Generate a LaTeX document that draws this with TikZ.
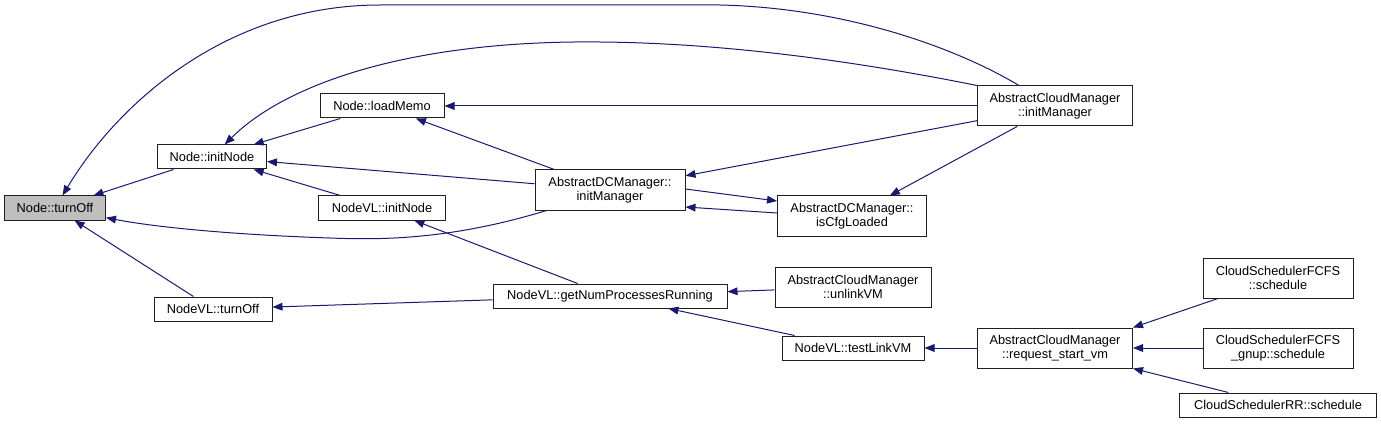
\documentclass[tikz,border=0pt]{standalone}
\usepackage{fontspec}
\setmainfont{Liberation Sans}
\usepackage{tikz}
\usetikzlibrary{arrows.meta,positioning,calc}
\definecolor{Edge}{HTML}{191970}
\definecolor{Hi}{HTML}{BFBFBF}
\definecolor{Frame}{HTML}{202020}

\begin{document}
\begin{tikzpicture}[
  x=0.75pt, y=-0.75pt,
  fn/.style={draw=Frame, fill=white, line width=0.75pt, inner sep=0pt,
    minimum height=18pt, align=center, font=\fontsize{9.6}{10.5}\selectfont},
  fntwo/.style={fn, minimum height=30pt},
  fnhi/.style={fn, fill=Hi},
  call/.style={-{Triangle[length=7.5pt,width=5.8pt]}, draw=Edge, line width=0.75pt},
]
  \useasboundingbox (0,0) rectangle (1381,424);

  \node[fnhi, minimum width=75.75pt] (turnoff) at (55,208) {Node::turnOff};
  \node[fn, minimum width=81.75pt] (initnode) at (212,157) {Node::initNode};
  \node[fn, minimum width=88.5pt] (vlturnoff) at (213,309) {NodeVL::turnOff};
  \node[fn, minimum width=93pt] (loadmemo) at (382,106) {Node::loadMemo};
  \node[fn, minimum width=95.25pt] (vlinitnode) at (382,208) {NodeVL::initNode};
  \node[fntwo, minimum width=112.5pt] (dcinit) at (610,190) {AbstractDCManager::\\initManager};
  \node[fn, minimum width=175.5pt] (getnum) at (610,296) {NodeVL::getNumProcessesRunning};
  \node[fntwo, minimum width=111.75pt] (cfgloaded) at (852,216) {AbstractDCManager::\\isCfgLoaded};
  \node[fntwo, minimum width=116.25pt] (cminit) at (1055,106) {AbstractCloudManager\\::initManager};
  \node[fntwo, minimum width=117pt] (unlink) at (853,287) {AbstractCloudManager\\::unlinkVM};
  \node[fn, minimum width=106.5pt] (testlink) at (853,348) {NodeVL::testLinkVM};
  \node[fntwo, minimum width=116.25pt] (reqstart) at (1055,348) {AbstractCloudManager\\::request\_start\_vm};
  \node[fntwo, minimum width=112.5pt] (fcfs) at (1278,278) {CloudSchedulerFCFS\\::schedule};
  \node[fntwo, minimum width=112.5pt] (gnup) at (1278,348) {CloudSchedulerFCFS\\\_gnup::schedule};
  \node[fn, minimum width=147.75pt] (rr) at (1278,405) {CloudSchedulerRR::schedule};

  \draw[call] ($(cminit.north west)+(42,0)$) .. controls (960,50) and (850,8) .. (720,5)
    -- (380,5) .. controls (230,5) and (120,100) .. (turnoff);
  \draw[call] (cminit.north west) .. controls (850,60) and (720,43) .. (600,42)
    .. controls (420,40) and (290,80) .. (initnode);
  \draw[call] ($(dcinit.south west)+(12,0)$) .. controls (450,240) and (380,240) .. (330,238)
    .. controls (240,235) and (160,228) .. (turnoff);

  \draw[call] (initnode) -- (turnoff);
  \draw[call] (vlturnoff) -- (turnoff);
  \draw[call] (loadmemo) -- (initnode);
  \draw[call] (dcinit) -- (initnode);
  \draw[call] (vlinitnode) -- (initnode);
  \draw[call] (cminit) -- (loadmemo);
  \draw[call] (dcinit) -- (loadmemo);
  \draw[call] (getnum) -- (vlturnoff);
  \draw[call] (getnum) -- (vlinitnode);
  \draw[call] (cminit) -- (dcinit);
  \draw[call] ($(dcinit.east)+(0,-1)$) -- ($(cfgloaded.west)+(0,-15)$);
  \draw[call] ($(cfgloaded.west)+(0,-3)$) -- ($(dcinit.east)+(0,17)$);
  \draw[call] (cminit) -- (cfgloaded);
  \draw[call] (unlink) -- (getnum);
  \draw[call] (testlink) -- (getnum);
  \draw[call] (reqstart) -- (testlink);
  \draw[call] (fcfs) -- (reqstart.north east);
  \draw[call] (gnup) -- (reqstart);
  \draw[call] (rr) -- (reqstart.south east);
\end{tikzpicture}
\end{document}
